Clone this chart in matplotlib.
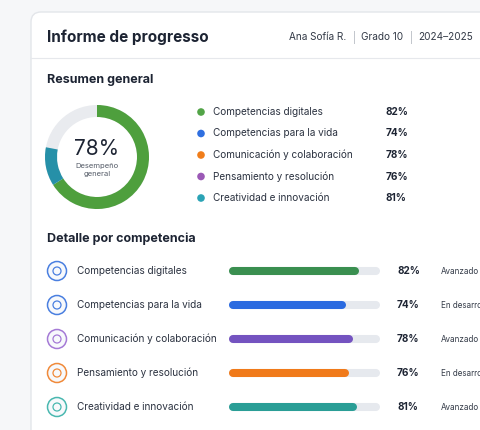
import matplotlib
matplotlib.use("Agg")
import matplotlib.pyplot as plt
from matplotlib.patches import Wedge, Circle, FancyBboxPatch

plt.rcParams['font.family'] = ['Inter', 'DejaVu Sans']

title = "Informe de progresso"
meta = ["Ana Sofía R.", "Grado 10", "2024–2025"]
overall = 78
donut_parts = [66, 12]
donut_colors = ["#4e9f3d", "#2690a8"]
categories = ["Competencias digitales", "Competencias para la vida",
              "Comunicación y colaboración", "Pensamiento y resolución",
              "Creatividad e innovación"]
values = [82, 74, 78, 76, 81]
legend_colors = ["#52a447", "#2f6fe0", "#f07d1a", "#9b59b6", "#2aa3b5"]
bar_colors = ["#3a8f50", "#2a6ae0", "#7453c0", "#f07a1a", "#2a9e96"]
icon_colors = ["#4a7fe0", "#4a7fe0", "#a57ad6", "#f08a3a", "#4ab8b0"]
status = ["Avanzado", "En desarrollo", "Avanzado", "En desarrollo", "Avanzado"]

fig = plt.figure(figsize=(4.8, 4.3), dpi=100)
fig.patch.set_facecolor("#f6f7f9")
ax = fig.add_axes([0, 0, 1, 1])
ax.set_xlim(0, 480); ax.set_ylim(430, 0); ax.axis("off")

ax.add_patch(FancyBboxPatch((31, 12), 470, 440, boxstyle="round,pad=0,rounding_size=10",
                            fc="white", ec="#e3e6ea", lw=1))
ax.text(47, 37, title, fontsize=11, fontweight="bold", color="#1d2433", va="center")
x = 289
for i, m in enumerate(meta):
    t = ax.text(x, 37, m, fontsize=7.2, color="#333a47", va="center")
    fig.canvas.draw()
    bb = t.get_window_extent()
    x += bb.width + 6
    if i < len(meta) - 1:
        ax.text(x, 37, "|", fontsize=7, color="#b0b5bd", va="center")
        x += 9
ax.plot([31, 480], [58, 58], color="#e6e8ec", lw=0.8)

ax.text(47, 80, "Resumen general", fontsize=9, fontweight="bold", color="#1d2433", va="center")
cx, cy, R, W = 97, 157, 52, 12
ax.add_patch(Wedge((cx, cy), R, 0, 360, width=W, fc="#e9ebef", ec="none"))
# y axis inverted: angle -90 is the top, increasing angle goes clockwise on screen
a = -90
for v, c in zip(donut_parts, donut_colors):
    ax.add_patch(Wedge((cx, cy), R, a, a + v * 3.6, width=W, fc=c, ec="none"))
    a += v * 3.6
ax.text(cx, cy - 8, f"{overall}%", fontsize=15, color="#1d2433", ha="center", va="center")
ax.text(cx, cy + 13, "Desempeño\ngeneral", fontsize=5.5, color="#555c68", ha="center",
        va="center", linespacing=1.3)

for i, (c, v, col) in enumerate(zip(categories, values, legend_colors)):
    y = 112 + i * 21.5
    ax.add_patch(Circle((201, y), 3.8, fc=col, ec="none"))
    ax.text(213, y, c, fontsize=7.2, color="#2b3240", va="center")
    ax.text(386, y, f"{v}%", fontsize=7.2, fontweight="bold", color="#1d2433", va="center")

ax.text(47, 239, "Detalle por competencia", fontsize=9, fontweight="bold", color="#1d2433", va="center")
x0, x1, cap = 229, 380, 4
for i, (c, v, bc, ic, st) in enumerate(zip(categories, values, bar_colors, icon_colors, status)):
    y = 271 + i * 34
    ax.add_patch(Circle((57, y), 9.5, fc="#f7f9fc", ec=ic, lw=1.1))
    ax.add_patch(Circle((57, y), 4, fc="none", ec=ic, lw=0.9))
    ax.text(77, y, c, fontsize=7.2, color="#2b3240", va="center")
    ax.plot([x0 + cap, x1 - cap], [y, y], color="#e6e9ee", lw=5.8, solid_capstyle="round")
    ax.plot([x0 + cap, x0 + (x1 - x0) * v / 100 * 1.05 - cap], [y, y], color=bc, lw=5.8,
            solid_capstyle="round")
    ax.text(397, y, f"{v}%", fontsize=7.2, fontweight="bold", color="#1d2433", va="center")
    ax.text(441, y, st, fontsize=5.8, color="#333a47", va="center")

fig.savefig("out.png", dpi=100, facecolor=fig.get_facecolor())
